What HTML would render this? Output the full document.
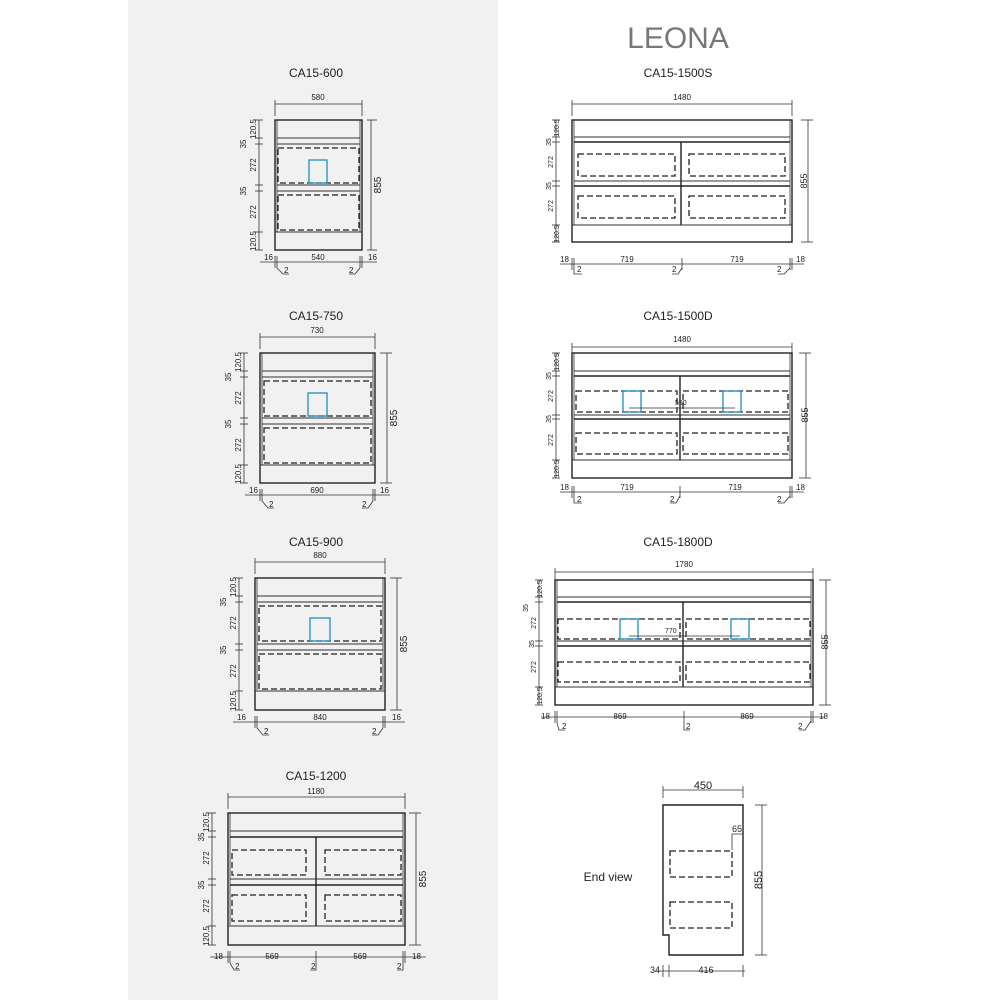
<!DOCTYPE html>
<html><head><meta charset="utf-8"><style>
html,body{margin:0;padding:0;background:#fff}
svg{display:block}
text{font-family:"Liberation Sans",Arial,sans-serif;fill:#222}
.t{font-size:12px}
.d{font-size:8px}
.s{stroke:#333;stroke-width:1;fill:none}
.k{stroke:#222;stroke-width:1.4;fill:none}
.ds{stroke:#222;stroke-width:1.3;fill:none;stroke-dasharray:6 3}
.b{stroke:#1e8fc0;stroke-width:1.3;fill:none}
.th{stroke:#333;stroke-width:0.8;fill:none}
</style></head><body>
<svg width="1000" height="1000" viewBox="0 0 1000 1000" xmlns="http://www.w3.org/2000/svg">
<rect x="0" y="0" width="1000" height="1000" fill="#fff"/>
<rect x="128" y="0" width="370" height="1000" fill="#f1f1f1"/>
<text x="678" y="48" text-anchor="middle" style="font-size:30px;fill:#777">LEONA</text>

<!-- CA15-600 -->
<text class="t" x="316" y="77" text-anchor="middle">CA15-600</text>
<g transform="translate(275,120)">
<rect class="k" x="0" y="0" width="87" height="130"/>
<line class="th" x1="2" y1="0" x2="2" y2="112"/><line class="th" x1="85" y1="0" x2="85" y2="112"/>
<line class="s" x1="2" y1="18" x2="85" y2="18"/><line class="s" x1="2" y1="24" x2="85" y2="24"/>
<line class="s" x1="2" y1="65" x2="85" y2="65"/><line class="s" x1="2" y1="71" x2="85" y2="71"/>
<line class="s" x1="0" y1="112" x2="87" y2="112"/>
<rect class="ds" x="3" y="28" width="81" height="35"/><rect class="ds" x="3" y="75" width="81" height="35"/>
<rect class="b" x="34" y="40" width="18" height="23"/>
<line class="th" x1="0" y1="-16" x2="87" y2="-16"/><line class="th" x1="0" y1="-20" x2="0" y2="-4"/><line class="th" x1="87" y1="-20" x2="87" y2="-4"/>
<text class="d" x="43" y="-20" text-anchor="middle">580</text>
<line class="th" x1="96" y1="0" x2="96" y2="130"/><line class="th" x1="92" y1="0" x2="102" y2="0"/><line class="th" x1="92" y1="130" x2="102" y2="130"/>
<text class="t" style="font-size:10px" transform="translate(106,65) rotate(-90)" text-anchor="middle">855</text>
<line class="th" x1="-16" y1="0" x2="-16" y2="130"/>
<g class="th"><line x1="-20" y1="0" x2="-12" y2="0"/><line x1="-20" y1="18" x2="-12" y2="18"/><line x1="-20" y1="24" x2="-12" y2="24"/><line x1="-20" y1="65" x2="-12" y2="65"/><line x1="-20" y1="71" x2="-12" y2="71"/><line x1="-20" y1="112" x2="-12" y2="112"/><line x1="-20" y1="130" x2="-12" y2="130"/></g>
<text class="d" transform="translate(-19,9) rotate(-90)" text-anchor="middle">120.5</text>
<text class="d" transform="translate(-29,24) rotate(-90)" text-anchor="middle">35</text>
<text class="d" transform="translate(-19,45) rotate(-90)" text-anchor="middle">272</text>
<text class="d" transform="translate(-29,71) rotate(-90)" text-anchor="middle">35</text>
<text class="d" transform="translate(-19,92) rotate(-90)" text-anchor="middle">272</text>
<text class="d" transform="translate(-19,121) rotate(-90)" text-anchor="middle">120.5</text>
<line class="th" x1="-15" y1="142" x2="102" y2="142"/>
<g class="th"><line x1="0" y1="136" x2="0" y2="148"/><line x1="2" y1="136" x2="2" y2="148"/><line x1="85" y1="136" x2="85" y2="148"/><line x1="87" y1="136" x2="87" y2="148"/><path d="M2 148 L8 154 L14 154"/><path d="M85 148 L80 154 L74 154"/></g>
<text class="d" x="-11" y="140">16</text><text class="d" x="43" y="140" text-anchor="middle">540</text><text class="d" x="93" y="140">16</text>
<text class="d" x="9" y="153">2</text><text class="d" x="74" y="153">2</text>
</g>

<!-- CA15-750 -->
<text class="t" x="316" y="320" text-anchor="middle">CA15-750</text>
<g transform="translate(260,353)">
<rect class="k" x="0" y="0" width="115" height="130"/>
<line class="th" x1="2" y1="0" x2="2" y2="112"/><line class="th" x1="113" y1="0" x2="113" y2="112"/>
<line class="s" x1="2" y1="18" x2="113" y2="18"/><line class="s" x1="2" y1="24" x2="113" y2="24"/>
<line class="s" x1="2" y1="65" x2="113" y2="65"/><line class="s" x1="2" y1="71" x2="113" y2="71"/>
<line class="s" x1="0" y1="112" x2="115" y2="112"/>
<rect class="ds" x="4" y="28" width="107" height="35"/><rect class="ds" x="4" y="75" width="107" height="35"/>
<rect class="b" x="48" y="40" width="19" height="23"/>
<line class="th" x1="0" y1="-16" x2="115" y2="-16"/><line class="th" x1="0" y1="-20" x2="0" y2="-4"/><line class="th" x1="115" y1="-20" x2="115" y2="-4"/>
<text class="d" x="57" y="-20" text-anchor="middle">730</text>
<line class="th" x1="127" y1="0" x2="127" y2="130"/><line class="th" x1="120" y1="0" x2="132" y2="0"/><line class="th" x1="120" y1="130" x2="132" y2="130"/>
<text class="t" style="font-size:10px" transform="translate(137,65) rotate(-90)" text-anchor="middle">855</text>
<line class="th" x1="-16" y1="0" x2="-16" y2="130"/>
<g class="th"><line x1="-20" y1="0" x2="-12" y2="0"/><line x1="-20" y1="18" x2="-12" y2="18"/><line x1="-20" y1="24" x2="-12" y2="24"/><line x1="-20" y1="65" x2="-12" y2="65"/><line x1="-20" y1="71" x2="-12" y2="71"/><line x1="-20" y1="112" x2="-12" y2="112"/><line x1="-20" y1="130" x2="-12" y2="130"/></g>
<text class="d" transform="translate(-19,9) rotate(-90)" text-anchor="middle">120.5</text>
<text class="d" transform="translate(-29,24) rotate(-90)" text-anchor="middle">35</text>
<text class="d" transform="translate(-19,45) rotate(-90)" text-anchor="middle">272</text>
<text class="d" transform="translate(-29,71) rotate(-90)" text-anchor="middle">35</text>
<text class="d" transform="translate(-19,92) rotate(-90)" text-anchor="middle">272</text>
<text class="d" transform="translate(-19,121) rotate(-90)" text-anchor="middle">120.5</text>
<line class="th" x1="-15" y1="142" x2="130" y2="142"/>
<g class="th"><line x1="0" y1="136" x2="0" y2="148"/><line x1="2" y1="136" x2="2" y2="148"/><line x1="113" y1="136" x2="113" y2="148"/><line x1="115" y1="136" x2="115" y2="148"/><path d="M2 148 L8 155 L14 155"/><path d="M113 148 L108 155 L102 155"/></g>
<text class="d" x="-11" y="140">16</text><text class="d" x="57" y="140" text-anchor="middle">690</text><text class="d" x="120" y="140">16</text>
<text class="d" x="9" y="154">2</text><text class="d" x="102" y="154">2</text>
</g>

<!-- CA15-900 -->
<text class="t" x="316" y="546" text-anchor="middle">CA15-900</text>
<g transform="translate(255,578)">
<rect class="k" x="0" y="0" width="130" height="132"/>
<line class="th" x1="2" y1="0" x2="2" y2="112"/><line class="th" x1="128" y1="0" x2="128" y2="112"/>
<line class="s" x1="2" y1="18" x2="128" y2="18"/><line class="s" x1="2" y1="24" x2="128" y2="24"/>
<line class="s" x1="2" y1="66" x2="128" y2="66"/><line class="s" x1="2" y1="72" x2="128" y2="72"/>
<line class="s" x1="0" y1="113" x2="130" y2="113"/>
<rect class="ds" x="4" y="28" width="122" height="35"/><rect class="ds" x="4" y="76" width="122" height="35"/>
<rect class="b" x="55" y="40" width="20" height="23"/>
<line class="th" x1="0" y1="-16" x2="130" y2="-16"/><line class="th" x1="0" y1="-20" x2="0" y2="-4"/><line class="th" x1="130" y1="-20" x2="130" y2="-4"/>
<text class="d" x="65" y="-20" text-anchor="middle">880</text>
<line class="th" x1="142" y1="0" x2="142" y2="132"/><line class="th" x1="135" y1="0" x2="147" y2="0"/><line class="th" x1="135" y1="132" x2="147" y2="132"/>
<text class="t" style="font-size:10px" transform="translate(152,66) rotate(-90)" text-anchor="middle">855</text>
<line class="th" x1="-16" y1="0" x2="-16" y2="132"/>
<g class="th"><line x1="-20" y1="0" x2="-12" y2="0"/><line x1="-20" y1="18" x2="-12" y2="18"/><line x1="-20" y1="24" x2="-12" y2="24"/><line x1="-20" y1="66" x2="-12" y2="66"/><line x1="-20" y1="72" x2="-12" y2="72"/><line x1="-20" y1="113" x2="-12" y2="113"/><line x1="-20" y1="132" x2="-12" y2="132"/></g>
<text class="d" transform="translate(-19,9) rotate(-90)" text-anchor="middle">120.5</text>
<text class="d" transform="translate(-29,24) rotate(-90)" text-anchor="middle">35</text>
<text class="d" transform="translate(-19,45) rotate(-90)" text-anchor="middle">272</text>
<text class="d" transform="translate(-29,72) rotate(-90)" text-anchor="middle">35</text>
<text class="d" transform="translate(-19,93) rotate(-90)" text-anchor="middle">272</text>
<text class="d" transform="translate(-19,123) rotate(-90)" text-anchor="middle">120.5</text>
<line class="th" x1="-22" y1="144" x2="150" y2="144"/>
<g class="th"><line x1="0" y1="138" x2="0" y2="150"/><line x1="2" y1="138" x2="2" y2="150"/><line x1="128" y1="138" x2="128" y2="150"/><line x1="130" y1="138" x2="130" y2="150"/><path d="M2 150 L8 157 L14 157"/><path d="M128 150 L123 157 L117 157"/></g>
<text class="d" x="-18" y="142">16</text><text class="d" x="65" y="142" text-anchor="middle">840</text><text class="d" x="137" y="142">16</text>
<text class="d" x="9" y="156">2</text><text class="d" x="117" y="156">2</text>
</g>

<!-- CA15-1200 -->
<text class="t" x="316" y="780" text-anchor="middle">CA15-1200</text>
<g transform="translate(228,813)">
<rect class="k" x="0" y="0" width="177" height="132"/>
<line class="th" x1="2" y1="0" x2="2" y2="112"/><line class="th" x1="175" y1="0" x2="175" y2="112"/>
<line class="s" x1="2" y1="18" x2="175" y2="18"/><line class="k" x1="2" y1="24" x2="175" y2="24"/>
<line class="s" x1="2" y1="66" x2="175" y2="66"/><line class="k" x1="2" y1="72" x2="175" y2="72"/>
<line class="s" x1="0" y1="113" x2="177" y2="113"/>
<line class="k" x1="88" y1="24" x2="88" y2="113"/>
<rect class="ds" x="4" y="37" width="74" height="25"/><rect class="ds" x="97" y="37" width="76" height="25"/>
<rect class="ds" x="4" y="82" width="74" height="26"/><rect class="ds" x="97" y="82" width="76" height="26"/>
<line class="th" x1="0" y1="-16" x2="177" y2="-16"/><line class="th" x1="0" y1="-20" x2="0" y2="-4"/><line class="th" x1="177" y1="-20" x2="177" y2="-4"/>
<text class="d" x="88" y="-19" text-anchor="middle">1180</text>
<line class="th" x1="188" y1="0" x2="188" y2="132"/><line class="th" x1="181" y1="0" x2="193" y2="0"/><line class="th" x1="181" y1="132" x2="193" y2="132"/>
<text class="t" style="font-size:10px" transform="translate(198,66) rotate(-90)" text-anchor="middle">855</text>
<line class="th" x1="-16" y1="0" x2="-16" y2="132"/>
<g class="th"><line x1="-20" y1="0" x2="-12" y2="0"/><line x1="-20" y1="18" x2="-12" y2="18"/><line x1="-20" y1="24" x2="-12" y2="24"/><line x1="-20" y1="66" x2="-12" y2="66"/><line x1="-20" y1="72" x2="-12" y2="72"/><line x1="-20" y1="113" x2="-12" y2="113"/><line x1="-20" y1="132" x2="-12" y2="132"/></g>
<text class="d" transform="translate(-19,9) rotate(-90)" text-anchor="middle">120.5</text>
<text class="d" transform="translate(-24,24) rotate(-90)" text-anchor="middle">35</text>
<text class="d" transform="translate(-19,45) rotate(-90)" text-anchor="middle">272</text>
<text class="d" transform="translate(-24,72) rotate(-90)" text-anchor="middle">35</text>
<text class="d" transform="translate(-19,93) rotate(-90)" text-anchor="middle">272</text>
<text class="d" transform="translate(-19,123) rotate(-90)" text-anchor="middle">120.5</text>
<line class="th" x1="-18" y1="144" x2="198" y2="144"/>
<g class="th"><line x1="0" y1="138" x2="0" y2="150"/><line x1="2" y1="138" x2="2" y2="150"/><line x1="88" y1="138" x2="88" y2="150"/><line x1="175" y1="138" x2="175" y2="150"/><line x1="177" y1="138" x2="177" y2="150"/><path d="M2 150 L6 157 L12 157"/><path d="M88 150 L88 157 L82 157"/><path d="M175 150 L175 157 L169 157"/></g>
<text class="d" x="-14" y="146">18</text><text class="d" x="44" y="146" text-anchor="middle">569</text><text class="d" x="132" y="146" text-anchor="middle">569</text><text class="d" x="184" y="146">18</text>
<text class="d" x="7" y="156">2</text><text class="d" x="83" y="156">2</text><text class="d" x="169" y="156">2</text>
</g>

<!-- CA15-1500S -->
<text class="t" x="678" y="77" text-anchor="middle">CA15-1500S</text>
<g transform="translate(572,120)">
<rect class="k" x="0" y="0" width="220" height="122"/>
<line class="th" x1="2" y1="0" x2="2" y2="105"/><line class="th" x1="218" y1="0" x2="218" y2="105"/>
<line class="s" x1="2" y1="17" x2="218" y2="17"/><line class="k" x1="2" y1="22" x2="218" y2="22"/>
<line class="s" x1="2" y1="61" x2="218" y2="61"/><line class="k" x1="2" y1="66" x2="218" y2="66"/>
<line class="s" x1="0" y1="105" x2="220" y2="105"/>
<line class="k" x1="109" y1="22" x2="109" y2="105"/>
<rect class="ds" x="6" y="34" width="97" height="22"/><rect class="ds" x="117" y="34" width="96" height="22"/>
<rect class="ds" x="6" y="76" width="97" height="22"/><rect class="ds" x="117" y="76" width="96" height="22"/>
<line class="th" x1="0" y1="-16" x2="220" y2="-16"/><line class="th" x1="0" y1="-20" x2="0" y2="-4"/><line class="th" x1="220" y1="-20" x2="220" y2="-4"/>
<text class="d" x="110" y="-20" text-anchor="middle">1480</text>
<line class="th" x1="236" y1="0" x2="236" y2="122"/><line class="th" x1="229" y1="0" x2="241" y2="0"/><line class="th" x1="229" y1="122" x2="241" y2="122"/>
<text class="d" style="font-size:9px" transform="translate(235,61) rotate(-90)" text-anchor="middle">855</text>
<line class="th" x1="-16" y1="0" x2="-16" y2="122"/>
<g class="th"><line x1="-20" y1="0" x2="-12" y2="0"/><line x1="-20" y1="17" x2="-12" y2="17"/><line x1="-20" y1="22" x2="-12" y2="22"/><line x1="-20" y1="61" x2="-12" y2="61"/><line x1="-20" y1="66" x2="-12" y2="66"/><line x1="-20" y1="105" x2="-12" y2="105"/><line x1="-20" y1="122" x2="-12" y2="122"/></g>
<text class="d" style="font-size:7px" transform="translate(-13,8) rotate(-90)" text-anchor="middle">120.5</text>
<text class="d" style="font-size:7px" transform="translate(-21,22) rotate(-90)" text-anchor="middle">35</text>
<text class="d" style="font-size:7px" transform="translate(-19,42) rotate(-90)" text-anchor="middle">272</text>
<text class="d" style="font-size:7px" transform="translate(-21,66) rotate(-90)" text-anchor="middle">35</text>
<text class="d" style="font-size:7px" transform="translate(-19,86) rotate(-90)" text-anchor="middle">272</text>
<text class="d" style="font-size:7px" transform="translate(-13,114) rotate(-90)" text-anchor="middle">120.5</text>
<line class="th" x1="-12" y1="144" x2="232" y2="144"/>
<g class="th"><line x1="0" y1="138" x2="0" y2="150"/><line x1="2" y1="138" x2="2" y2="150"/><line x1="110" y1="138" x2="110" y2="150"/><line x1="218" y1="138" x2="218" y2="150"/><line x1="220" y1="138" x2="220" y2="150"/><path d="M2 150 L2 154 L10 154"/><path d="M110 148 L106 154 L100 154"/><path d="M218 148 L212 154 L206 154"/></g>
<text class="d" x="-12" y="142">18</text><text class="d" x="55" y="142" text-anchor="middle">719</text><text class="d" x="165" y="142" text-anchor="middle">719</text><text class="d" x="224" y="142">18</text>
<text class="d" x="5" y="152">2</text><text class="d" x="100" y="152">2</text><text class="d" x="205" y="152">2</text>
</g>

<!-- CA15-1500D -->
<text class="t" x="678" y="320" text-anchor="middle">CA15-1500D</text>
<g transform="translate(572,353)">
<rect class="k" x="0" y="0" width="220" height="125"/>
<line class="th" x1="2" y1="0" x2="2" y2="107"/><line class="th" x1="218" y1="0" x2="218" y2="107"/>
<line class="s" x1="2" y1="18" x2="218" y2="18"/><line class="k" x1="2" y1="23" x2="218" y2="23"/>
<line class="s" x1="2" y1="62" x2="218" y2="62"/><line class="k" x1="2" y1="66" x2="218" y2="66"/>
<line class="s" x1="0" y1="107" x2="220" y2="107"/>
<line class="k" x1="108" y1="23" x2="108" y2="107"/>
<rect class="ds" x="4" y="38" width="101" height="21"/><rect class="ds" x="111" y="38" width="105" height="21"/>
<rect class="ds" x="4" y="80" width="101" height="21"/><rect class="ds" x="111" y="80" width="105" height="21"/>
<rect class="b" x="51" y="38" width="18" height="21"/><rect class="b" x="151" y="38" width="18" height="21"/>
<line class="th" x1="57" y1="55" x2="163" y2="55"/><text class="d" style="font-size:7px" x="103" y="52">590</text>
<line class="th" x1="0" y1="-6" x2="220" y2="-6"/><line class="th" x1="0" y1="-10" x2="0" y2="0"/><line class="th" x1="220" y1="-10" x2="220" y2="0"/>
<text class="d" x="110" y="-11" text-anchor="middle">1480</text>
<line class="th" x1="234" y1="0" x2="234" y2="125"/><line class="th" x1="227" y1="0" x2="239" y2="0"/><line class="th" x1="227" y1="125" x2="239" y2="125"/>
<text class="d" style="font-size:9px" transform="translate(236,62) rotate(-90)" text-anchor="middle">855</text>
<line class="th" x1="-16" y1="0" x2="-16" y2="125"/>
<g class="th"><line x1="-20" y1="0" x2="-12" y2="0"/><line x1="-20" y1="18" x2="-12" y2="18"/><line x1="-20" y1="23" x2="-12" y2="23"/><line x1="-20" y1="62" x2="-12" y2="62"/><line x1="-20" y1="66" x2="-12" y2="66"/><line x1="-20" y1="107" x2="-12" y2="107"/><line x1="-20" y1="125" x2="-12" y2="125"/></g>
<text class="d" style="font-size:7px" transform="translate(-13,9) rotate(-90)" text-anchor="middle">120.5</text>
<text class="d" style="font-size:7px" transform="translate(-21,23) rotate(-90)" text-anchor="middle">35</text>
<text class="d" style="font-size:7px" transform="translate(-19,43) rotate(-90)" text-anchor="middle">272</text>
<text class="d" style="font-size:7px" transform="translate(-21,66) rotate(-90)" text-anchor="middle">35</text>
<text class="d" style="font-size:7px" transform="translate(-19,87) rotate(-90)" text-anchor="middle">272</text>
<text class="d" style="font-size:7px" transform="translate(-13,116) rotate(-90)" text-anchor="middle">120.5</text>
<line class="th" x1="-12" y1="139" x2="232" y2="139"/>
<g class="th"><line x1="0" y1="133" x2="0" y2="145"/><line x1="2" y1="133" x2="2" y2="145"/><line x1="108" y1="133" x2="108" y2="145"/><line x1="218" y1="133" x2="218" y2="145"/><line x1="220" y1="133" x2="220" y2="145"/><path d="M2 145 L2 150 L10 150"/><path d="M108 143 L104 150 L98 150"/><path d="M218 143 L212 150 L206 150"/></g>
<text class="d" x="-12" y="137">18</text><text class="d" x="55" y="137" text-anchor="middle">719</text><text class="d" x="163" y="137" text-anchor="middle">719</text><text class="d" x="224" y="137">18</text>
<text class="d" x="5" y="149">2</text><text class="d" x="98" y="149">2</text><text class="d" x="205" y="149">2</text>
</g>

<!-- CA15-1800D -->
<text class="t" x="678" y="546" text-anchor="middle">CA15-1800D</text>
<g transform="translate(555,580)">
<rect class="k" x="0" y="0" width="258" height="125"/>
<line class="th" x1="2" y1="0" x2="2" y2="107"/><line class="th" x1="256" y1="0" x2="256" y2="107"/>
<line class="s" x1="2" y1="17" x2="256" y2="17"/><line class="k" x1="2" y1="22" x2="256" y2="22"/>
<line class="s" x1="2" y1="61" x2="256" y2="61"/><line class="k" x1="2" y1="66" x2="256" y2="66"/>
<line class="s" x1="0" y1="107" x2="258" y2="107"/>
<line class="k" x1="128" y1="22" x2="128" y2="107"/>
<rect class="ds" x="3" y="39" width="122" height="20"/><rect class="ds" x="131" y="39" width="124" height="20"/>
<rect class="ds" x="3" y="82" width="122" height="20"/><rect class="ds" x="131" y="82" width="124" height="20"/>
<rect class="b" x="65" y="39" width="18" height="20"/><rect class="b" x="176" y="39" width="18" height="20"/>
<line class="th" x1="74" y1="56" x2="185" y2="56"/><text class="d" style="font-size:7px" x="110" y="53">770</text>
<line class="th" x1="0" y1="-8" x2="258" y2="-8"/><line class="th" x1="0" y1="-12" x2="0" y2="0"/><line class="th" x1="258" y1="-12" x2="258" y2="0"/>
<text class="d" x="129" y="-13" text-anchor="middle">1780</text>
<line class="th" x1="271" y1="0" x2="271" y2="125"/><line class="th" x1="264" y1="0" x2="276" y2="0"/><line class="th" x1="264" y1="125" x2="276" y2="125"/>
<text class="d" style="font-size:9px" transform="translate(273,62) rotate(-90)" text-anchor="middle">855</text>
<line class="th" x1="-16" y1="0" x2="-16" y2="125"/>
<g class="th"><line x1="-20" y1="0" x2="-12" y2="0"/><line x1="-20" y1="17" x2="-12" y2="17"/><line x1="-20" y1="22" x2="-12" y2="22"/><line x1="-20" y1="61" x2="-12" y2="61"/><line x1="-20" y1="66" x2="-12" y2="66"/><line x1="-20" y1="107" x2="-12" y2="107"/><line x1="-20" y1="125" x2="-12" y2="125"/></g>
<text class="d" style="font-size:7px" transform="translate(-13,9) rotate(-90)" text-anchor="middle">120.5</text>
<text class="d" style="font-size:7px" transform="translate(-27,28) rotate(-90)" text-anchor="middle">35</text>
<text class="d" style="font-size:7px" transform="translate(-19,43) rotate(-90)" text-anchor="middle">272</text>
<text class="d" style="font-size:7px" transform="translate(-21,64) rotate(-90)" text-anchor="middle">35</text>
<text class="d" style="font-size:7px" transform="translate(-19,87) rotate(-90)" text-anchor="middle">272</text>
<text class="d" style="font-size:7px" transform="translate(-13,116) rotate(-90)" text-anchor="middle">120.5</text>
<line class="th" x1="-14" y1="137" x2="270" y2="137"/>
<g class="th"><line x1="0" y1="131" x2="0" y2="143"/><line x1="2" y1="131" x2="2" y2="143"/><line x1="129" y1="131" x2="129" y2="143"/><line x1="256" y1="131" x2="256" y2="143"/><line x1="258" y1="131" x2="258" y2="143"/><path d="M2 143 L4 150 L10 150"/><path d="M129 143 L129 150 L135 150"/><path d="M256 141 L250 150 L244 150"/></g>
<text class="d" x="-14" y="139">18</text><text class="d" x="65" y="139" text-anchor="middle">869</text><text class="d" x="192" y="139" text-anchor="middle">869</text><text class="d" x="264" y="139">18</text>
<text class="d" x="7" y="149">2</text><text class="d" x="131" y="149">2</text><text class="d" x="243" y="149">2</text>
</g>

<!-- End view -->
<text class="t" x="608" y="881" text-anchor="middle">End view</text>
<g>
<path class="k" d="M663 805 L743 805 L743 955 L669 955 L669 935 L663 935 Z"/>
<line class="th" x1="663" y1="790" x2="743" y2="790"/><line class="th" x1="663" y1="786" x2="663" y2="798"/><line class="th" x1="743" y1="786" x2="743" y2="798"/>
<text class="t" style="font-size:11px" x="703" y="789" text-anchor="middle">450</text>
<line class="th" x1="762" y1="805" x2="762" y2="955"/><line class="th" x1="755" y1="805" x2="767" y2="805"/><line class="th" x1="755" y1="955" x2="767" y2="955"/>
<text class="t" style="font-size:11px" transform="translate(762,880) rotate(-90)" text-anchor="middle">855</text>
<path class="th" d="M732 850 L732 834 L743 834"/><text class="d" style="font-size:9px" x="732" y="832">65</text>
<rect class="ds" x="670" y="851" width="62" height="26"/>
<rect class="ds" x="670" y="902" width="62" height="26"/>
<line class="th" x1="655" y1="971" x2="745" y2="971"/>
<g class="th"><line x1="663" y1="965" x2="663" y2="977"/><line x1="669" y1="965" x2="669" y2="977"/><line x1="743" y1="965" x2="743" y2="977"/></g>
<text class="d" style="font-size:9px" x="650" y="973">34</text><text class="d" style="font-size:9px" x="706" y="973" text-anchor="middle">416</text>
</g>
</svg>
</body></html>
